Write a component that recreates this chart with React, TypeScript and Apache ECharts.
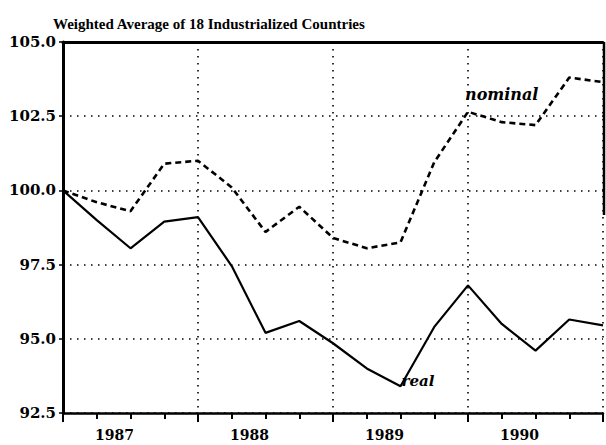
import React, { useEffect, useRef } from "react";
import * as echarts from "echarts";

const quarterIndex = [0, 1, 2, 3, 4, 5, 6, 7, 8, 9, 10, 11, 12, 13, 14, 15, 16];
const realValues = [100.0, 99.0, 98.05, 98.95, 99.1, 97.45, 95.2, 95.6, 94.85, 94.0, 93.4, 95.4, 96.8, 95.5, 94.6, 95.65, 95.45];
const nominalValues = [100.0, 99.6, 99.3, 100.9, 101.0, 100.1, 98.6, 99.45, 98.4, 98.05, 98.25, 100.95, 102.65, 102.3, 102.2, 103.8, 103.65];
const yearLabels = ["1987", "1988", "1989", "1990"];
const titleText = "Weighted Average of 18 Industrialized Countries";

const FONT = "'Liberation Serif', serif";
const WIDE = "'DejaVu Serif', serif";

export default function App() {
  const ref = useRef<HTMLDivElement>(null);
  useEffect(() => {
    if (!ref.current) return;
    const chart = echarts.init(ref.current, null, { renderer: "svg" });
    const realData = quarterIndex.map((q, i) => [q, realValues[i]]);
    const nominalData = quarterIndex.map((q, i) => [q, nominalValues[i]]);
    const dotted = { type: [1.5, 5.5], color: "#000", width: 1.6 };
    chart.setOption({
      animation: false,
      backgroundColor: "#fff",
      title: {
        text: titleText,
        left: 48,
        top: 11,
        textStyle: { fontFamily: FONT, fontWeight: "bold", fontSize: 15, color: "#000" },
      },
      grid: { left: 63, right: 2, top: 42, bottom: 32 },
      xAxis: [
        {
          type: "value",
          min: 0,
          max: 16,
          interval: 1,
          axisLine: { show: true, onZero: false, lineStyle: { color: "#000", width: 2.5 } },
          axisTick: { show: true, length: 6, lineStyle: { color: "#000", width: 2 } },
          splitLine: { show: false },
          axisLabel: {
            align: "left",
            margin: 15,
            padding: [0, 0, 0, 32],
            fontFamily: WIDE,
            fontWeight: "bold",
            fontSize: 14,
            color: "#000",
            formatter: (v: number) => {
              if (v % 4 !== 0 || v >= 16) return "";
              return yearLabels[v / 4];
            },
          },
        },
        {
          type: "value",
          position: "top",
          min: 0,
          max: 16,
          axisLine: { show: true, onZero: false, lineStyle: { color: "#000", width: 3 } },
          axisTick: { show: false },
          axisLabel: { show: false },
          splitLine: { show: false },
        },
        {
          type: "value",
          position: "bottom",
          min: 0,
          max: 16,
          interval: 4,
          axisLine: { show: false, onZero: false },
          axisTick: { show: true, length: 9, lineStyle: { color: "#000", width: 2 } },
          axisLabel: { show: false },
          splitLine: { show: true, lineStyle: dotted },
        },
      ],
      yAxis: {
        type: "value",
        min: 92.5,
        max: 105,
        interval: 2.5,
        axisLine: { show: true, onZero: false, lineStyle: { color: "#000", width: 3 } },
        axisTick: { show: true, length: 4, lineStyle: { color: "#000", width: 1.5 } },
        splitLine: { show: true, lineStyle: dotted },
        axisLabel: {
          margin: 7,
          fontFamily: WIDE,
          fontWeight: "bold",
          fontSize: 15,
          color: "#000",
          formatter: (v: number) => v.toFixed(1),
        },
      },
      series: [
        {
          name: "real",
          type: "line",
          xAxisIndex: 0,
          data: realData,
          symbol: "none",
          lineStyle: { color: "#000", width: 2.2, type: "solid" },
          markPoint: {
            symbol: "circle",
            symbolSize: 0,
            data: [{ coord: [10, realValues[10]] }],
            label: {
              show: true,
              position: "right",
              distance: 0,
              offset: [1, -5],
              formatter: "real",
              fontFamily: WIDE,
              fontStyle: "italic",
              fontWeight: "bold",
              fontSize: 15,
              color: "#000",
            },
          },
        },
        {
          name: "nominal",
          type: "line",
          xAxisIndex: 0,
          data: nominalData,
          symbol: "none",
          lineStyle: { color: "#000", width: 2.6, type: [6, 4] },
          markPoint: {
            symbol: "circle",
            symbolSize: 0,
            data: [{ coord: [12, nominalValues[12]] }],
            label: {
              show: true,
              position: "right",
              distance: 0,
              offset: [-3, -17],
              formatter: "nominal",
              fontFamily: WIDE,
              fontStyle: "italic",
              fontWeight: "bold",
              fontSize: 16,
              color: "#000",
            },
          },
        },
      ],
      graphic: [
        {
          type: "line",
          shape: { x1: 604, y1: 42, x2: 604, y2: 215 },
          style: { stroke: "#000", lineWidth: 2.5 },
        },
      ],
    });
    return () => chart.dispose();
  }, []);
  return (
    <div
      ref={ref}
      style={{ position: "fixed", left: 0, top: 0, width: 606, height: 445, background: "#fff" }}
    />
  );
}
